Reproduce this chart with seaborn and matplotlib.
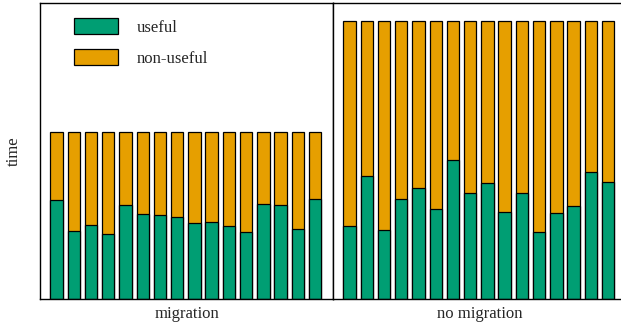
import matplotlib
matplotlib.use("Agg")
import matplotlib.pyplot as plt
from matplotlib.patches import Patch
import pandas as pd
import seaborn as sns

# Per-run time split (16 runs per configuration)
runs = [str(i) for i in range(16)]
migration_total = [60] * 16
migration_useful = [35.6, 24.4, 26.5, 23.4, 33.7, 30.5, 30.2, 29.3,
                    27.2, 27.7, 26.1, 24.0, 34.0, 33.7, 25.0, 35.8]
nomig_total = [100] * 16
nomig_useful = [26.2, 44.3, 24.8, 36.0, 40.0, 32.5, 49.8, 38.2,
                41.8, 31.1, 38.0, 24.1, 30.9, 33.3, 45.6, 42.1]

panels = ["migration", "no migration"]
series_labels = ["useful", "non-useful"]
GREEN = "#009e73"
ORANGE = "#e69f00"

sns.set_style("white")
plt.rcParams["font.family"] = ["Liberation Serif", "DejaVu Serif"]
plt.rcParams["font.size"] = 12

fig = plt.figure(figsize=(6.21, 3.26), dpi=100)
W, H = 621, 326
bottom = 27 / H
height = 296 / H
ax_l = fig.add_axes([40 / W, bottom, 293 / W, height])
ax_r = fig.add_axes([333 / W, bottom, 293 / W, height])

data = [
    (ax_l, migration_total, migration_useful, panels[0]),
    (ax_r, nomig_total, nomig_useful, panels[1]),
]

for ax, total, useful, name in data:
    df = pd.DataFrame({"run": runs, "total": total, "useful": useful})
    # non-useful part shows above the useful part of each stacked bar
    sns.barplot(data=df, x="run", y="total", color=ORANGE, saturation=1,
                width=0.72, edgecolor="black", linewidth=0.9,
                errorbar=None, ax=ax)
    sns.barplot(data=df, x="run", y="useful", color=GREEN, saturation=1,
                width=0.72, edgecolor="black", linewidth=0.9,
                errorbar=None, ax=ax)
    ax.set_xlim(-0.96, 16.04)
    ax.set_ylim(0, 106.3)
    ax.set_xticks([])
    ax.set_yticks([])
    ax.set_xlabel(name, fontsize=12, labelpad=5)
    ax.set_ylabel("")
    for sp in ax.spines.values():
        sp.set_visible(True)
        sp.set_color("black")
        sp.set_linewidth(1.0)

ax_l.set_ylabel("time", fontsize=12, labelpad=13)

handles = [Patch(facecolor=GREEN, edgecolor="black", linewidth=0.9),
           Patch(facecolor=ORANGE, edgecolor="black", linewidth=0.9)]
ax_l.legend(handles, series_labels, loc="upper left",
            bbox_to_anchor=(0.117, 0.948), frameon=False,
            handlelength=2.65, handleheight=1.05, labelspacing=0.8,
            handletextpad=1.1, borderpad=0, borderaxespad=0)

fig.savefig("out.png", dpi=100)
